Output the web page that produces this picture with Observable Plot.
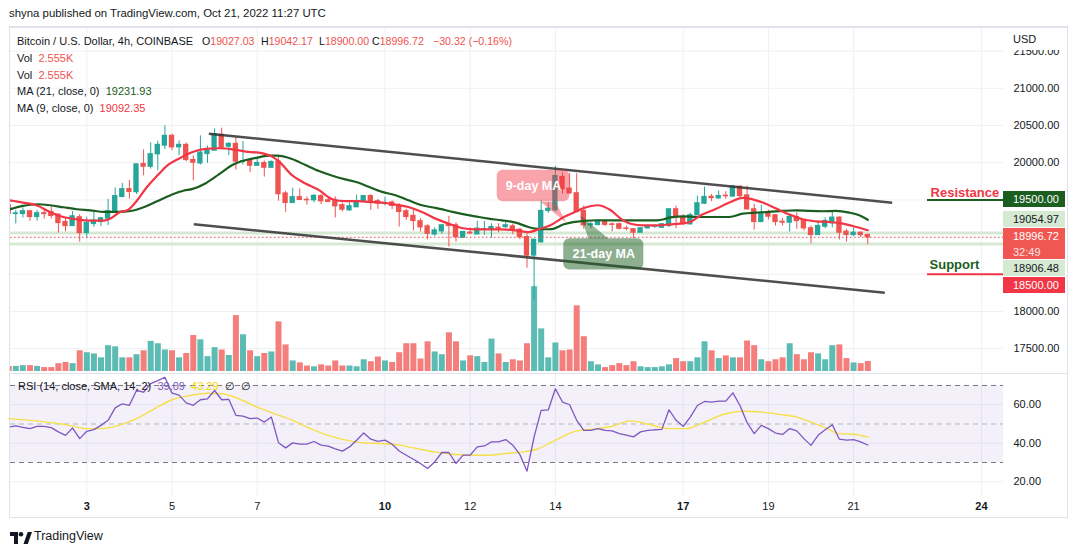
<!DOCTYPE html>
<html><head><meta charset="utf-8">
<script src="https://cdn.jsdelivr.net/npm/d3@7"></script>
<script src="https://cdn.jsdelivr.net/npm/@observablehq/plot@0.6"></script>
<style>
html,body{margin:0;padding:0;background:#fff;}
#wrap{position:relative;width:1079px;height:554px;overflow:hidden;font-family:"Liberation Sans",Arial,sans-serif;color:#131722;}
.a{position:absolute;white-space:nowrap;line-height:1;}
.layer{position:absolute;left:0;}
.layer svg{display:block;overflow:visible;}
</style></head>
<body><div id="wrap"></div>
<script>
// ---------------- DATA ----------------
const firstCandle = "2022-10-01T04:00:00Z"; // 4h candles
const opens = [19428,19311,19311,19347,19270,19320,19338,19302,19203,19149,
19266,19054,19176,19203,19248,19338,19540,19644,19604,19982,
19946,20113,20230,20360,20207,20239,20036,19991,20117,20162,
20374,20216,20252,20014,20023,19959,19995,19932,20014,19586,
19459,19536,19500,19495,19550,19495,19482,19428,19360,19401,
19482,19550,19482,19450,19464,19419,19347,19284,19212,19144,
19036,19077,19160,19158,18991,19060,19036,19100,19104,19125,
19135,19144,19099,19000,18752,18930,19351,19360,19808,19651,
19589,19351,19159,19163,19210,19170,19172,19115,19105,19059,
19118,19140,19126,19149,19373,19270,19172,19293,19449,19540,
19520,19555,19545,19677,19560,19373,19203,19328,19293,19205,
19194,19270,19230,19118,19028,19140,19185,19261,19073,19028,
19059,19027.03];
const highs = [19440,19360,19392,19360,19360,19360,19401,19302,19252,19342,
19302,19266,19333,19266,19509,19662,19721,19761,19977,20171,
20266,20288,20495,20383,20293,20266,20090,20360,20225,20455,
20464,20270,20338,20284,20050,20059,20023,20023,20081,19613,
19658,19649,19540,19572,19572,19527,19540,19459,19459,19563,
19563,19572,19509,19536,19486,19450,19374,19365,19248,19167,
19126,19167,19279,19194,19077,19122,19212,19212,19180,19180,
19225,19176,19113,19045,18964,19485,19460,19950,19866,19852,
19852,19418,19200,19230,19230,19190,19190,19145,19115,19125,
19160,19165,19180,19380,19418,19300,19320,19552,19673,19575,
19620,19610,19696,19686,19686,19441,19427,19360,19300,19250,
19293,19328,19230,19150,19203,19261,19337,19270,19105,19126,
19068,19042.17];
const lows = [19300,19176,19257,19212,19212,19243,19243,19054,19072,19149,
18932,18977,19131,19140,19153,19338,19527,19509,19572,19824,
19914,19892,20176,20162,20095,20014,19757,19968,19991,20162,
20180,20095,19901,19968,19865,19959,19806,19932,19482,19333,
19459,19500,19428,19459,19437,19464,19257,19338,19347,19401,
19464,19360,19374,19419,19369,19135,19225,19081,19068,18964,
19009,19036,18865,18932,18986,19032,19036,19023,18986,19059,
19113,19032,18964,18581,18150,18920,19320,19340,19575,19575,
19328,19105,19110,19150,19140,19070,19095,19085,18980,19059,
19110,19115,19115,19130,19113,19160,19160,19293,19440,19475,
19510,19510,19540,19510,19365,19095,19195,19230,19149,19149,
19069,19105,19082,18911,19028,19113,19126,18961,18934,19005,
18995,18900];
const closes = [19311,19318,19347,19270,19320,19310,19284,19189,19149,19279,
19054,19189,19221,19252,19347,19550,19644,19608,19977,19946,
20113,20239,20360,20207,20239,20036,20000,20135,20162,20383,
20203,20252,20014,20020,19959,19995,19932,20009,19577,19459,
19536,19500,19495,19554,19482,19473,19414,19369,19414,19482,
19550,19482,19450,19455,19419,19338,19270,19216,19131,19045,
19090,19158,19150,19000,19068,19050,19113,19106,19135,19118,
19158,19090,19000,18752,18964,19351,19380,19820,19642,19589,
19337,19159,19172,19216,19165,19165,19113,19110,19059,19118,
19149,19145,19172,19373,19261,19172,19293,19454,19539,19525,
19552,19550,19677,19552,19373,19203,19328,19275,19203,19195,
19270,19216,19118,19028,19149,19216,19261,19059,19028,19059,
19027,18996.72];
const volumesK = [1.3,1.3,1.5,1.5,1.3,1.0,1.0,2.0,2.3,2.0,
5.3,4.8,4.5,3.5,6.6,6.3,3.5,3.5,4.3,5.3,
7.7,7.1,5.5,5.3,3.5,4.6,9.2,8.1,3.8,6.1,
5.5,4.1,14.3,9.4,5.3,3.8,4.6,5.0,12.7,6.8,
2.7,2.2,1.4,1.2,1.7,1.4,2.7,1.4,1.4,1.2,
3.0,2.5,3.7,2.7,2.3,4.8,7.1,7.1,3.2,7.6,
5.0,4.3,9.9,7.6,2.7,4.0,3.8,2.3,8.3,4.5,
2.3,3.0,2.7,7.1,21.7,10.9,3.5,7.3,5.3,5.5,
16.8,8.9,2.5,1.7,1.0,1.5,2.0,1.5,2.5,1.2,
1.0,1.0,1.2,1.7,3.3,2.5,2.5,3.5,7.6,5.3,
3.3,4.0,3.5,3.5,7.8,6.6,3.0,2.5,3.0,3.5,
7.1,4.3,3.0,4.8,4.5,3.0,6.6,6.8,3.3,2.2,
2.0,2.555];
const rsiValues = [48.4,49.0,48.3,47.6,48.8,48.8,48.1,45.9,44.1,47.9,
42.4,46.2,47.1,49.3,51.9,58.4,60.5,59.7,67.4,66.5,
71.0,72.5,74.3,66.0,65.0,61.0,59.7,62.6,63.1,67.4,
62.6,62.8,54.5,54.1,52.8,53.1,51.0,53.6,40.3,37.6,
40.2,39.5,39.5,40.9,39.0,38.5,37.1,35.9,38.1,41.6,
45.3,42.1,41.0,41.6,39.5,36.0,33.8,31.7,29.5,26.9,
30.3,35.2,35.2,29.5,33.8,33.8,38.1,38.6,40.7,40.7,
41.9,39.0,34.1,25.5,43.3,57.1,57.3,68.3,61.4,60.0,
51.9,46.7,46.7,47.6,46.7,46.4,45.0,44.2,43.3,45.9,
46.7,47.0,47.2,57.4,51.9,48.8,53.6,59.6,61.7,61.4,
61.9,61.9,66.2,59.6,50.7,45.0,49.3,47.6,45.3,44.6,
47.6,46.4,42.4,38.9,44.1,47.0,49.6,42.1,41.6,41.9,
40.7,39.09];
// readings of the smooth lines (candle index, value)
const ma9Index = [0,2,3.9,5.8,7.7,9.6,11.5,13.4,14.3,15.7,16.7,18.1,19.5,21,22.4,23.8,25.8,27.7,29.6,31.5,33.4,35.2,37.1,38.1,39.9,41.8,43.7,45.6,47.4,49.3,50.7,52.6,54.5,56.3,58.2,60.1,62,63.8,65.7,67.6,69.5,71.4,73.2,74.9,76.3,78.2,79.6,81,82.9,84.8,86.2,87.6,89.4,91.3,93.2,94.6,96,97.5,99.5,101.5,103.4,104.3,106.2,108.1,110,111.8,113.7,115.6,117.5,119.4,121];
const ma9Values = [19495,19464,19428,19338,19270,19239,19221,19221,19248,19338,19360,19495,19676,19833,19968,20045,20140,20185,20194,20180,20149,20135,20081,20014,19833,19721,19631,19509,19482,19482,19473,19464,19437,19405,19338,19248,19180,19122,19104,19104,19104,19090,19068,19113,19158,19270,19329,19392,19428,19360,19248,19180,19158,19158,19171,19180,19203,19293,19374,19464,19527,19518,19464,19383,19302,19239,19212,19203,19180,19135,19092.35];
const ma21Index = [0,2,3.9,5.8,7.7,9.6,11.5,13.4,15.3,17.2,19.1,20.9,22.8,24.7,25.8,27.7,29.6,31.5,33.4,35.2,36.6,37.8,39.9,41.8,43.7,45.6,47.4,49.3,50.7,52.6,54.5,56.3,58.2,60.1,62,63.8,65.7,67.6,69.5,71.4,73.2,74.2,75.5,76.5,78.2,79.5,82.9,87.6,91.3,92.3,93.2,95.1,96.9,99.6,101.5,103.4,105.3,107.1,109,110.9,112.8,114.7,116.5,118.4,119.8,121];
const ma21Values = [19369,19419,19441,19428,19401,19374,19360,19338,19338,19351,19405,19482,19563,19626,19644,19721,19842,19968,20036,20072,20095,20095,20050,19968,19887,19824,19775,19730,19676,19608,19563,19495,19428,19392,19351,19311,19279,19248,19225,19194,19135,19113,19105,19108,19172,19200,19226,19225,19225,19239,19265,19279,19270,19270,19270,19315,19329,19338,19351,19360,19351,19347,19351,19329,19293,19231.93];
const rsiSmaIndex = [0,3,8,11,13,15.5,18,20.5,23,25.5,28,30,33,35,37.5,40,42.5,45,47.5,50,52.5,55,57.5,60,62.5,65,67.5,70,72.5,74.5,77,80,83,85,87.5,90,93,95.5,98,101,103.5,106,108.5,111,113,115,117,119,121];
const rsiSmaValues = [52.8,51.9,49.7,47.6,47.6,49.3,52.8,57.9,62.6,64.8,66.0,65.7,62.2,58.8,55.3,51.9,47.6,44.1,41.6,40.2,39.8,39.0,37.2,35.5,34.3,33.8,33.8,34.7,35.5,37.0,41.6,46.4,47.6,48.8,51.6,50.0,47.6,47.6,51.0,55.3,56.6,56.2,55.0,53.6,51.0,48.1,45.0,44.7,43.29];
// axis ticks
const priceGridTicks = [17500,18000,18500,19000,19500,20000,20500,21000,21500];
const priceLabelTicks = [17500,18000,20000,20500,21000,21500];
const rsiTicks = [20,40,60];
const rsiLevels = [30,50,70];
const dayTicks = [3,5,7,10,12,14,17,19,21,24];
const boldDays = [3,10,17,24];
// drawings (time, price)
const trendStartTimes = ["2022-10-05T20:45:00Z","2022-10-05T12:15:00Z"];
const trendStartPrices = [20390,19172];
const trendEndTimes = ["2022-10-21T21:45:00Z","2022-10-21T17:35:00Z"];
const trendEndPrices = [19462,18253];
const levelPrices = [19500,18500];
const levelNames = ["Resistance","Support"];
const levelStartTime = "2022-10-22T17:40:00Z";
const hlineValues = [19054.97,18906.48];
const lastPrice = 18996.72;
const countdown = "32:49";
const calloutNames = ["9-day MA","21-day MA"];
const calloutX1 = ["2022-10-12T15:13:00Z","2022-10-14T04:44:00Z"];
const calloutX2 = ["2022-10-14T08:07:00Z","2022-10-16T01:48:00Z"];
const calloutYLow = [19476,18556];
const calloutYHigh = [19898,18977];
const tailTimes = [["2022-10-13T15:36:00Z","2022-10-14T00:00:00Z","2022-10-14T06:14:00Z"],["2022-10-14T13:55:00Z","2022-10-14T18:43:00Z","2022-10-15T06:00:00Z"]];
const tailPrices = [[19476,19476,19194],[19293,18977,18977]];

// ---------------- BUILD ----------------
const wrap = document.getElementById("wrap");
const H4 = 4*3600e3;
const t0 = new Date(firstCandle).getTime();
const candles = opens.map((o,i)=>({t:new Date(t0+i*H4), o, h:highs[i], l:lows[i], c:closes[i], v:volumesK[i], up:closes[i]>=o}));
const rsiData = rsiValues.map((v,i)=>({t:new Date(t0+i*H4), v}));
const rsiSma = rsiSmaIndex.map((k,i)=>({t:new Date(t0+k*H4), v:rsiSmaValues[i]}));
const ma9 = ma9Index.map((k,i)=>({t:new Date(t0+k*H4), v:ma9Values[i]}));
const ma21 = ma21Index.map((k,i)=>({t:new Date(t0+k*H4), v:ma21Values[i]}));
const dayDate = d => new Date(Date.UTC(2022,9,d));
const trends = trendStartTimes.map((s,i)=>({x1:new Date(s), y1:trendStartPrices[i], x2:new Date(trendEndTimes[i]), y2:trendEndPrices[i]}));
const levels = levelPrices.map((p,i)=>({p, name:levelNames[i], i}));
const callouts = calloutNames.map((n,i)=>({name:n, i, x1:new Date(calloutX1[i]), x2:new Date(calloutX2[i]), y1:calloutYLow[i], y2:calloutYHigh[i]}));
const tails = tailTimes.flatMap((ts,i)=>ts.map((s,j)=>({k:i, t:new Date(s), p:tailPrices[i][j]})));

const W = 1079, ML = 10, MR = 76;
const MAIN_TOP = 27, MAIN_H = 347, VOL_H = 344, RSI_TOP = 374, RSI_H = 145;
const xDomain = [new Date(Date.UTC(2022,9,3) - 1.791*864e5), new Date(Date.UTC(2022,9,3) + 21.519*864e5)];
const yDomain = [17153, 21817];
const GRID = "#eef0f4";
const UP = "#26a69a", DOWN = "#ef5350";
const baseStyle = {fontFamily:'"Liberation Sans", Arial, sans-serif', fontSize:"11px", background:"transparent", color:"#131722", overflow:"visible"};
const xOpt = () => ({type:"utc", domain:xDomain, axis:null});

function layer(top, el){ const d=document.createElement("div"); d.className="layer"; d.style.top=top+"px"; d.appendChild(el); wrap.appendChild(d); return d; }
function txt(x, yc, html, size=11, extra=""){ const d=document.createElement("div"); d.className="a"; d.style.left=x+"px"; d.style.top=(yc-size*0.58)+"px"; d.style.fontSize=size+"px"; d.style.cssText += extra; d.innerHTML=html; wrap.appendChild(d); return d; }

// frame
const frame = document.createElement("div");
frame.style.cssText = "position:absolute;left:9px;top:26px;width:1059px;height:492px;border:1px solid #e0e3eb;border-top:2px solid #e0e3eb;box-sizing:border-box;";
wrap.appendChild(frame);

// layer 1: grid + price axis
const gridPlot = Plot.plot({width:W, height:MAIN_H, marginLeft:ML, marginRight:MR, marginTop:0, marginBottom:0,
  x:xOpt(), y:{domain:yDomain, axis:null}, style:baseStyle,
  marks:[
    Plot.gridY(priceGridTicks, {stroke:GRID, strokeOpacity:1}),
    Plot.gridX(dayTicks.map(dayDate), {stroke:GRID, strokeOpacity:1}),
    Plot.axisY(priceLabelTicks, {anchor:"right", tickSize:0, tickPadding:10, tickFormat:d=>d.toFixed(2), fontSize:11, fill:"#131722"})
  ]});
layer(MAIN_TOP, gridPlot);

// layer 2: volume
const volPlot = Plot.plot({width:W, height:VOL_H, marginLeft:ML, marginRight:MR, marginTop:0, marginBottom:0,
  x:xOpt(), y:{domain:[0, VOL_H/3.91], axis:null}, style:baseStyle,
  marks:[
    Plot.ruleX(candles, {x:"t", y1:0, y2:"v", stroke:d=>d.up?"#5cbcb3":"#f37e7c", strokeWidth:6, clip:true})
  ]});
layer(MAIN_TOP, volPlot);

// layer 3: price
const mainPlot = Plot.plot({width:W, height:MAIN_H, marginLeft:ML, marginRight:MR, marginTop:0, marginBottom:0,
  x:xOpt(), y:{domain:yDomain, axis:null}, style:baseStyle,
  marks:[
    Plot.ruleY(hlineValues, {stroke:"#d6e9d3", strokeWidth:3}),
    Plot.ruleX(candles, {x:"t", y1:"l", y2:"h", stroke:d=>d.up?UP:DOWN, strokeWidth:1, clip:true}),
    Plot.rect(candles, {x1:d=>new Date(+d.t-1.5*3600e3), x2:d=>new Date(+d.t+1.5*3600e3), y1:"o", y2:"c", fill:d=>d.up?UP:DOWN, insetTop:-0.6, insetBottom:-0.6, clip:true}),
    Plot.line(ma21, {x:"t", y:"v", stroke:"#1b5e20", strokeWidth:2.2, curve:"monotone-x", clip:true}),
    Plot.line(ma9, {x:"t", y:"v", stroke:"#f23645", strokeWidth:2.2, curve:"monotone-x", clip:true}),
    Plot.ruleY([lastPrice], {stroke:"#ef5350", strokeDasharray:"1.5,2.5", strokeWidth:1}),
    Plot.link(trends, {x1:"x1", y1:"y1", x2:"x2", y2:"y2", stroke:"#363636", strokeOpacity:0.88, strokeWidth:2.5}),
    Plot.ruleY(levels, {y:"p", x1:()=>new Date(levelStartTime), x2:()=>xDomain[1], stroke:d=>d.i===0?"#1b5e20":"#f23645", strokeWidth:2}),
    Plot.text(levels.slice(0,1), {x:()=>new Date(levelStartTime), y:"p", text:"name", textAnchor:"start", dx:3, dy:-3, fill:"#f23645", fontWeight:"bold", fontSize:13, lineAnchor:"bottom"}),
    Plot.text(levels.slice(1), {x:()=>new Date(levelStartTime), y:"p", text:"name", textAnchor:"start", dx:2, dy:-5, fill:"#1b5e20", fontWeight:"bold", fontSize:13, lineAnchor:"bottom"}),
    Plot.rect(callouts, {x1:"x1", x2:"x2", y1:"y1", y2:"y2", fill:d=>d.i===0?"#f23645":"#1b5e20", fillOpacity:d=>d.i===0?0.45:0.5, rx:6}),
    Plot.line(tails, {x:"t", y:"p", z:"k", curve:"linear-closed", stroke:"none", fill:d=>d.k===0?"#f23645":"#1b5e20", fillOpacity:0.45}),
    Plot.text(callouts, {x:d=>new Date((+d.x1 + +d.x2)/2), y:d=>(d.y1+d.y2)/2, text:"name", fill:"white", fontWeight:"bold", fontSize:12.5})
  ]});
layer(MAIN_TOP, mainPlot);

// RSI pane
const rsiPlot = Plot.plot({width:W, height:RSI_H, marginLeft:ML, marginRight:MR, marginTop:0, marginBottom:23,
  x:xOpt(), y:{domain:[12.34, 75.71], axis:null}, style:baseStyle,
  marks:[
    Plot.gridY(rsiTicks, {stroke:GRID, strokeOpacity:1}),
    Plot.gridX(dayTicks.map(dayDate), {stroke:GRID, strokeOpacity:1}),
    Plot.rect([{lo:rsiLevels[0], hi:rsiLevels[2]}], {x1:()=>xDomain[0], x2:()=>xDomain[1], y1:"lo", y2:"hi", fill:"#7e57c2", fillOpacity:0.09}),
    Plot.ruleY([rsiLevels[0], rsiLevels[2]], {stroke:"#787b86", strokeDasharray:"5,4"}),
    Plot.ruleY([rsiLevels[1]], {stroke:"#b2b5be", strokeDasharray:"5,4"}),
    Plot.line(rsiSma, {x:"t", y:"v", stroke:"#f7df47", strokeWidth:1.4, curve:"monotone-x"}),
    Plot.line(rsiData, {x:"t", y:"v", stroke:"#7e57c2", strokeWidth:1.3, clip:true}),
    Plot.axisY(rsiTicks, {anchor:"right", tickSize:0, tickPadding:10, tickFormat:d=>d.toFixed(2), fontSize:11, fill:"#131722"}),
    Plot.text(dayTicks.filter(d=>!boldDays.includes(d)), {x:dayDate, text:d=>String(d), frameAnchor:"bottom", dy:10, lineAnchor:"middle", fontSize:11, fill:"#131722"}),
    Plot.text(boldDays, {x:dayDate, text:d=>String(d), frameAnchor:"bottom", dy:10, lineAnchor:"middle", fontSize:11, fontWeight:"bold", fill:"#131722"})
  ]});
layer(RSI_TOP, rsiPlot);

// pane separator
const sep = document.createElement("div");
sep.style.cssText = "position:absolute;left:10px;top:373px;width:1058px;height:1px;background:#e0e3eb;";
wrap.appendChild(sep);

// USD area (covers top of 21500 label)
const usd = document.createElement("div");
usd.style.cssText = "position:absolute;left:1004px;top:28px;width:62px;height:22px;background:#fff;";
wrap.appendChild(usd);
txt(1013, 40, "USD", 11);

// price label boxes
const ys = mainPlot.scale("y");
const yAbs = v => MAIN_TOP + ys.apply(v);
function box(top, h, bg, color, html){
  const d=document.createElement("div");
  d.style.cssText = `position:absolute;left:1003px;top:${top}px;width:62px;height:${h}px;background:${bg};color:${color};font-size:11px;line-height:16px;padding-left:10px;box-sizing:border-box;white-space:nowrap;`;
  d.innerHTML = html; wrap.appendChild(d);
}
const lastTop = Math.round(yAbs(lastPrice) - 8.5);
box(Math.round(yAbs(levelPrices[0]) - 8), 16, "#1b5e20", "#fff", levelPrices[0].toFixed(2));
box(lastTop - 17, 16, "#d6e9d3", "#131722", hlineValues[0].toFixed(2));
box(lastTop, 31, "#f05752", "#fff", lastPrice.toFixed(2) + "<br><span style='opacity:.85'>" + countdown + "</span>");
box(lastTop + 32, 16, "#d6e9d3", "#131722", hlineValues[1].toFixed(2));
box(lastTop + 49, 16, "#f23645", "#fff", levelPrices[1].toFixed(2));

// header texts
txt(9, 15, "shyna published on TradingView.com, Oct 21, 2022 11:27 UTC", 11.4);
const R = "#ef5350";
const HS = 11, OS = 10.6;
txt(17, 42, "Bitcoin / U.S. Dollar, 4h, COINBASE", HS);
txt(202, 42, `O<span style="color:${R}">${opens[opens.length-1].toFixed(2)}</span>`, OS);
txt(261, 42, `H<span style="color:${R}">${highs[highs.length-1].toFixed(2)}</span>`, OS);
txt(319, 42, `L<span style="color:${R}">${lows[lows.length-1].toFixed(2)}</span>`, OS);
txt(372, 42, `C<span style="color:${R}">${closes[closes.length-1].toFixed(2)}</span>`, OS);
txt(433, 42, `<span style="color:${R}">−30.32 (−0.16%)</span>`, OS);
txt(17, 59, `Vol&nbsp; <span style="color:${R}">${volumesK[volumesK.length-1].toFixed(3)}K</span>`, HS);
txt(17, 76, `Vol&nbsp; <span style="color:${R}">${volumesK[volumesK.length-1].toFixed(3)}K</span>`, HS);
txt(17, 92.5, `MA (21, close, 0)&nbsp; <span style="color:#1b5e20">${ma21Values[ma21Values.length-1].toFixed(2)}</span>`, HS);
txt(17, 109, `MA (9, close, 0)&nbsp; <span style="color:#f23645">${ma9Values[ma9Values.length-1].toFixed(2)}</span>`, HS);
txt(18, 387, `RSI (14, close, SMA, 14, 2)&nbsp; <span style="color:#7e57c2">${rsiValues[rsiValues.length-1].toFixed(2)}</span>&nbsp; <span style="color:#f2d600">${rsiSmaValues[rsiSmaValues.length-1].toFixed(2)}</span>&nbsp; ∅&nbsp; ∅`, HS);

// TradingView logo
const logo = document.createElement("div");
logo.className="a"; logo.style.left="10px"; logo.style.top="531px";
logo.innerHTML = '<svg width="22" height="12" viewBox="0 0 22 12"><path d="M0 0h8v12h-4v-8h-4z" fill="#131722"/><circle cx="11" cy="2.3" r="2.3" fill="#131722"/><path d="M13.5 12l4.2-12h4.3l-4.2 12z" fill="#131722"/></svg>';
wrap.appendChild(logo);
txt(34, 537, "TradingView", 12.5);
</script></body></html>
